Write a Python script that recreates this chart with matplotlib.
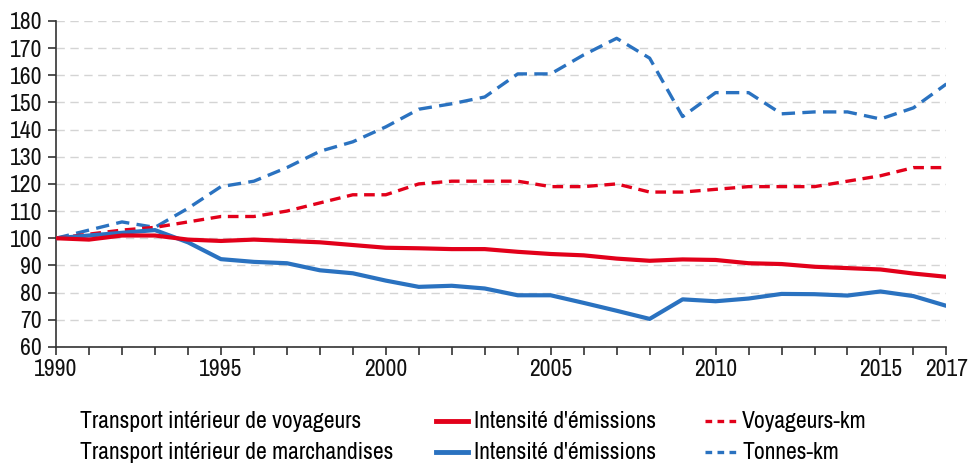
import numpy as np
import matplotlib
matplotlib.use('Agg')
import matplotlib.pyplot as plt
from matplotlib.lines import Line2D

plt.rcParams['font.family'] = ['Archivo Narrow', 'Liberation Sans', 'DejaVu Sans']

# Données (indice base 100 en 1990)
annees = list(range(1990, 2018))
voy_intensite = [100, 99.5, 101, 101, 99.5, 99, 99.5, 99, 98.5, 97.5, 96.5, 96.3, 96, 96,
                 95, 94.2, 93.7, 92.5, 91.7, 92.2, 92, 90.8, 90.5, 89.5, 89, 88.5, 87, 85.8]
voy_km = [100, 101.5, 103, 104, 106, 108, 108, 110, 113, 116, 116, 120, 121, 121,
          121, 119, 119, 120, 117, 117, 118, 119, 119, 119, 121, 123, 126, 126]
mar_intensite = [100, 101, 102, 103, 98.5, 92.3, 91.3, 90.8, 88.2, 87.1, 84.4, 82.1, 82.5, 81.5,
                 79, 79, 76.2, 73.3, 70.3, 77.5, 76.8, 77.8, 79.5, 79.4, 78.9, 80.4, 78.7, 75.1]
tonnes_km = [100, 103, 106, 104, 111, 119, 121, 126, 132, 135.5, 141, 147.5, 149.5, 152,
             160.5, 160.5, 167.5, 173.6, 166.3, 144.8, 153.6, 153.6, 145.8, 146.5, 146.5, 143.9, 148, 156.8]
xlabels = [1990, 1995, 2000, 2005, 2010, 2015, 2017]

rouge = '#e2001a'
bleu = '#2a72c0'

fig = plt.figure(figsize=(9.71, 4.65), dpi=100)
ax = fig.add_axes([0.0577, 0.254, 0.917, 0.701])

ax.plot(annees, tonnes_km, color=bleu, lw=2.4, dashes=(4, 2.2), zorder=3)
ax.plot(annees, voy_km, color=rouge, lw=2.4, dashes=(3.2, 2), zorder=3)
ax.plot(annees, mar_intensite, color=bleu, lw=3, zorder=4, solid_capstyle='butt')
ax.plot(annees, voy_intensite, color=rouge, lw=3, zorder=4, solid_capstyle='butt')

ax.set_xlim(1990, 2017)
ax.set_ylim(60, 180)
ax.set_yticks(np.arange(60, 181, 10))
ax.set_xticks(xlabels)
ax.set_xticks(annees, minor=True)
ax.tick_params(axis='both', labelsize=17, direction='out', length=6, width=1.2, colors='#333333',
               labelcolor='#111111')
ax.tick_params(axis='x', which='minor', length=6, width=1.2, colors='#333333')
ax.tick_params(axis='x', pad=3)
ax.tick_params(axis='y', pad=4)

ax.grid(axis='y', color='#d4d4d4', lw=1, dashes=(6, 4))
ax.set_axisbelow(True)
for s in ['top', 'right']:
    ax.spines[s].set_visible(False)
for s in ['left', 'bottom']:
    ax.spines[s].set_color('#333333')
    ax.spines[s].set_linewidth(1.2)

# Légende
fs = 17
y1, y2 = 1 - 421 / 465, 1 - 452 / 465
fig.text(80 / 971, y1, 'Transport intérieur de voyageurs', fontsize=fs, va='center')
fig.text(80 / 971, y2, 'Transport intérieur de marchandises', fontsize=fs, va='center')
for y, c in [(y1, rouge), (y2, bleu)]:
    fig.add_artist(Line2D([436 / 971, 468 / 971], [y, y], color=c, lw=3.5, transform=fig.transFigure))
    fig.text(474 / 971, y, "Intensité d'émissions", fontsize=fs, va='center')
    fig.add_artist(Line2D([705 / 971, 738 / 971], [y, y], color=c, lw=2.4, dashes=(2, 1.6),
                          transform=fig.transFigure))
fig.text(742 / 971, y1, 'Voyageurs-km', fontsize=fs, va='center')
fig.text(742 / 971, y2, 'Tonnes-km', fontsize=fs, va='center')

fig.savefig('out.png', dpi=100)
